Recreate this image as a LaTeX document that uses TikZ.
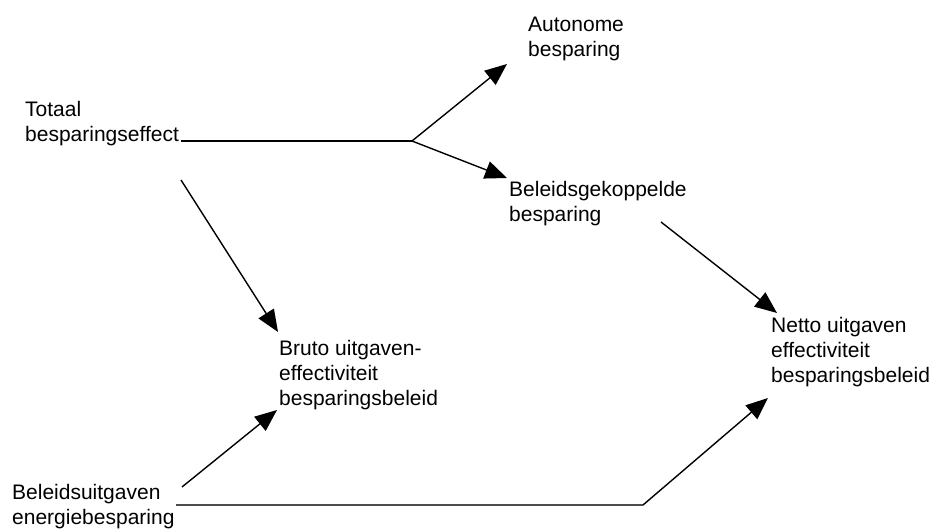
\documentclass[tikz,border=0pt]{standalone}
\usepackage{fontspec}
\setmainfont{Liberation Sans}
\usetikzlibrary{arrows.meta}
\begin{document}
\begin{tikzpicture}[x=1pt,y=-1pt,
  lbl/.style={anchor=base west,inner sep=0pt,align=left,font=\fontsize{21}{25}\selectfont},
  conn/.style={line width=1.4pt,black},
  arr/.style={conn,-{Triangle[length=22pt,width=18pt]}},
  grayline/.style={line width=1.4pt,black!70}]
\useasboundingbox (0,0) rectangle (935,532);
\node[lbl] (totaal) at (25,142) {Totaal\\besparingseffect};
\node[lbl] (auto) at (528,57) {Autonome\\besparing};
\node[lbl] (beleid) at (509,222) {Beleidsgekoppelde\\besparing};
\node[lbl] (netto) at (771,382) {Netto uitgaven\\effectiviteit\\besparingsbeleid};
\node[lbl] (bruto) at (279,405) {Bruto uitgaven-\\effectiviteit\\besparingsbeleid};
\node[lbl] (uitg) at (12,524) {Beleidsuitgaven\\energiebesparing};
% connector points
\coordinate (t1) at (181,141);
\coordinate (split) at (412,141);
\coordinate (autoin) at (507,64);
\coordinate (beleidin) at (507,178);
\coordinate (beleidout) at (661,222);
\coordinate (nettoin) at (777,313);
\coordinate (t2) at (181,180);
\coordinate (brutoin) at (278,332);
\coordinate (u1) at (182,487);
\coordinate (brutoin2) at (277,410);
\coordinate (u2) at (176,505);
\coordinate (bend) at (643,505);
\coordinate (nettoin2) at (768,398);
\draw[conn] (t1) -- (split);
\draw[arr] (split) -- (autoin);
\draw[arr] (split) -- (beleidin);
\draw[arr] (beleidout) -- (nettoin);
\draw[arr] (t2) -- (brutoin);
\draw[arr] (u1) -- (brutoin2);
\draw[grayline] (u2) -- (bend);
\draw[arr] (bend) -- (nettoin2);
\end{tikzpicture}
\end{document}
